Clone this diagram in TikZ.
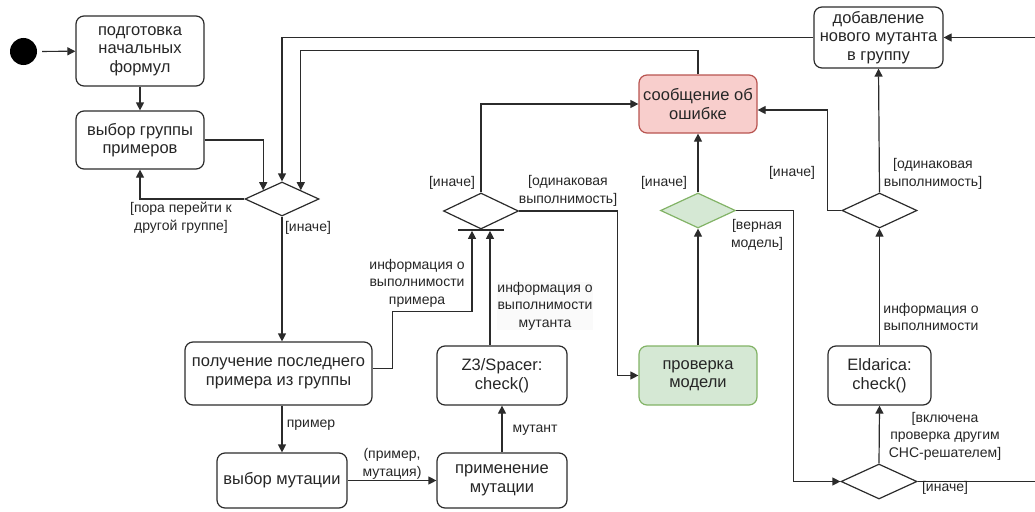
\documentclass[tikz,border=0pt]{standalone}
\usepackage{fontspec}
\setmainfont{Liberation Sans}
\usetikzlibrary{arrows.meta,shapes.geometric,calc}
\definecolor{ln}{HTML}{2B2B2B}
\definecolor{txt}{HTML}{262626}
\definecolor{errfill}{HTML}{F8CECC}
\definecolor{errline}{HTML}{B85450}
\definecolor{okfill}{HTML}{D5E8D4}
\definecolor{okline}{HTML}{82B366}
\definecolor{lblbg}{HTML}{FAFAFA}
\begin{document}
\begin{tikzpicture}[x=1pt,y=-1pt,
  box/.style={draw=ln, line width=1.2pt, rounded corners=8pt, align=center,
    inner sep=0pt, text=txt, font=\fontsize{16.5}{18.5}\selectfont},
  dia/.style={draw=ln, line width=1.2pt, diamond, inner sep=0pt},
  lbl/.style={align=center, inner sep=0pt, text=txt, font=\fontsize{14}{17.5}\selectfont},
  arr/.style={draw=ln, line width=1.2pt, -{Triangle[length=8pt,width=8pt]}},
  plain/.style={draw=ln, line width=1.2pt}]
\useasboundingbox (0,0) rectangle (1035,511);

% start point and nodes of the activity
\node[circle, fill=black, minimum size=27pt, inner sep=0pt] (start) at (23.5,51.5) {};
\node[box, minimum width=128pt, minimum height=70pt] (prep) at (140,51) {подготовка\\начальных\\формул};
\node[box, minimum width=128pt, minimum height=58pt] (grp) at (140,140) {выбор группы\\примеров};
\node[dia, minimum width=74pt, minimum height=34pt] (d1) at (282,199) {};
\node[box, minimum width=187pt, minimum height=63pt] (get) at (278.5,373.5) {получение последнего\\примера из группы};
\node[box, minimum width=130pt, minimum height=55pt] (mut) at (282,480.5) {выбор мутации};
\node[box, minimum width=130pt, minimum height=55pt] (app) at (502,480.5) {применение\\мутации};
\node[box, minimum width=130pt, minimum height=59pt] (z3) at (502,375.5) {Z3/Spacer:\\check()};
\node[dia, minimum width=75pt, minimum height=36pt] (d2) at (481,211) {};
\node[fill=ln, minimum width=46pt, minimum height=1.3pt, inner sep=0pt] (bar) at (481,230) {};
\node[box, fill=errfill, draw=errline, minimum width=118pt, minimum height=58pt] (err) at (698,104) {сообщение об\\ошибке};
\node[dia, fill=okfill, draw=okline, minimum width=75pt, minimum height=35pt] (gd) at (698,210.5) {};
\node[box, fill=okfill, draw=okline, minimum width=118pt, minimum height=59pt] (chk) at (698,375.5) {проверка\\модели};
\node[box, minimum width=129pt, minimum height=61pt] (add) at (878.5,37.5) {добавление\\нового мутанта\\в группу};
\node[dia, minimum width=75pt, minimum height=35pt] (d4) at (879.5,210.5) {};
\node[box, minimum width=103pt, minimum height=59pt] (eld) at (879.5,375.5) {Eldarica:\\check()};
\node[dia, minimum width=76pt, minimum height=35pt] (d3) at (879,481.5) {};

% exit and entry points away from the anchors
\coordinate (getout) at ([yshift=5pt]get.east);
\coordinate (z3out) at ([xshift=-12pt]z3.north);
\coordinate (barin1) at ([xshift=-9pt]bar.south);
\coordinate (barin2) at ([xshift=10pt]bar.south);
\coordinate (errin) at ([yshift=-6pt]err.east);

% connectors
\draw[arr, shorten <=5pt] (start) -- (prep);
\draw[arr] (prep) -- (grp);
\draw[arr] (grp.east) -| (d1.north west);
\draw[arr] (add.west) -| (d1.north);
\draw[arr] (err.north) -- ++(0,-24) -| (d1.north east);
\draw[arr] (d1.west) -| (grp.south);
\draw[arr] (d1.south) -- (d1.south |- get.north);
\draw[arr] (get.south -| mut.north) -- (mut.north);
\draw[arr] (mut.east) -- (app.west);
\draw[arr] (app.north) -- (z3.south);
\draw[arr] (z3out) -- (z3out |- barin2);
\draw[arr] (getout) -- ++(20,0) -- ++(0,-57) -| (barin1);
\draw[arr] (d2.north) |- (err.west);
\draw[arr] (d2.east) -- ++(98,0) |- (chk.west);
\draw[arr] (gd.north) -- (err.south);
\draw[arr] (chk.north) -- (gd.south);
\draw[arr] (gd.east) -- ++(57,0) |- (d3.west);
\draw[arr] (d3.north) -- (eld.south);
\draw[arr] (eld.north) -- (d4.south);
\draw[arr] (d4.north) -- (add.south);
\draw[arr] (d4.west) -- ++(-14,0) |- (errin);
\draw[arr] (d3.east) -- ++(140,0) |- (add.east);

% guards and flow labels
\node[lbl] (l1) at (181,218) {[пора перейти к\\другой группе]};
\node[lbl] (l2) at (308,228) {[иначе]};
\node[lbl] (l3) at (417,283) {информация о\\выполнимости\\примера};
\node[lbl, fill=lblbg] (l4) at (545,306) {информация о\\выполнимости\\мутанта};
\node[lbl] (l5) at (311,425) {пример};
\node[lbl] (l6) at (392,464) {(пример,\\мутация)};
\node[lbl] (l7) at (535,430) {мутант};
\node[lbl] (l8) at (452,183) {[иначе]};
\node[lbl] (l9) at (568,191) {[одинаковая\\выполнимость]};
\node[lbl] (l10) at (664,183) {[иначе]};
\node[lbl] (l11) at (757,235) {[верная\\модель]};
\node[lbl] (l12) at (792,173) {[иначе]};
\node[lbl] (l13) at (933,174) {[одинаковая\\выполнимость]};
\node[lbl] (l14) at (931,317) {информация о\\выполнимости};
\node[lbl] (l15) at (945,436) {[включена\\проверка другим\\CHC-решателем]};
\node[lbl] (l16) at (945,488) {[иначе]};
\end{tikzpicture}
\end{document}
